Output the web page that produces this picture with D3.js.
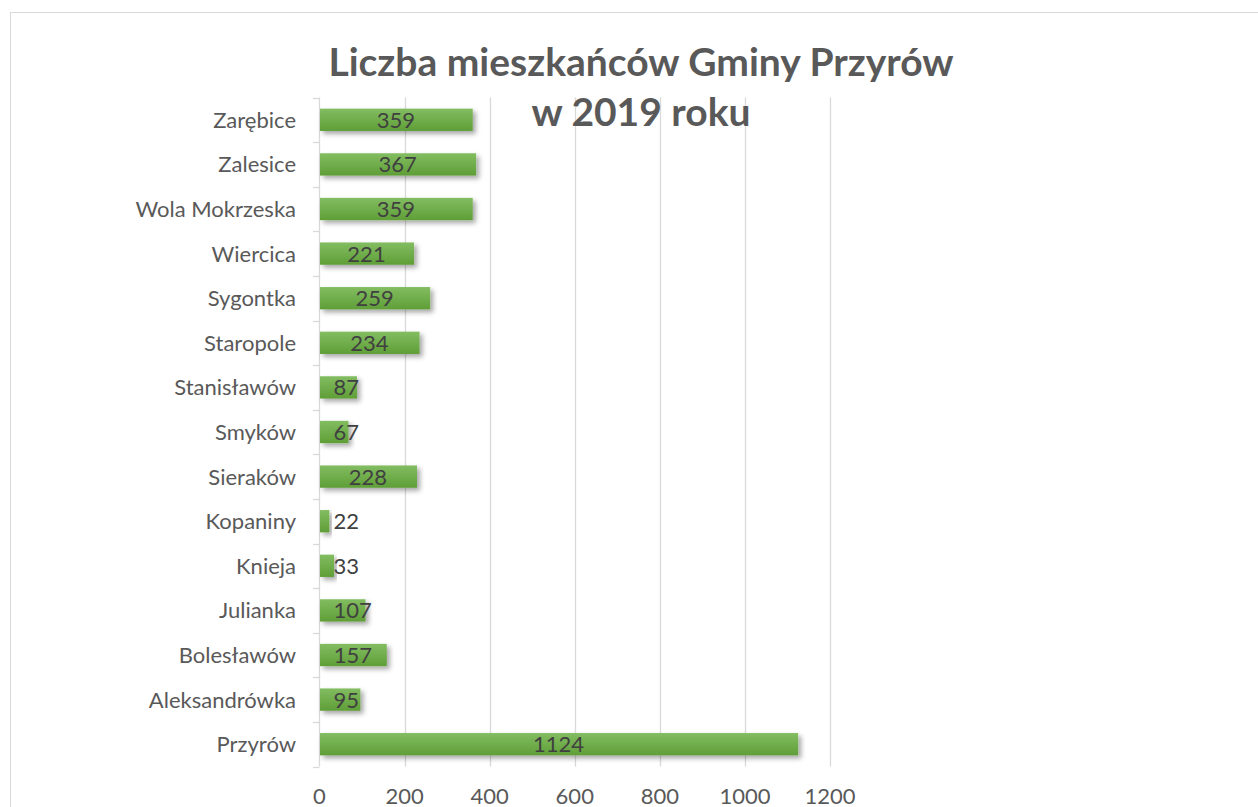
<!DOCTYPE html>
<html><head><meta charset="utf-8">
<script src="https://cdn.jsdelivr.net/npm/d3@7"></script>
<style>body{margin:0;background:#fff;}svg{display:block;}text{font-family:Lato,"Open Sans",sans-serif;}</style>
</head><body>
<svg id="c" width="1258" height="807"></svg>
<script>
const categories = ["Zarębice","Zalesice","Wola Mokrzeska","Wiercica","Sygontka","Staropole","Stanisławów","Smyków","Sieraków","Kopaniny","Knieja","Julianka","Bolesławów","Aleksandrówka","Przyrów"];
const values = [359,367,359,221,259,234,87,67,228,22,33,107,157,95,1124];
const xTicks = [0,200,400,600,800,1000,1200];
const titleLines = ["Liczba mieszkańców Gminy Przyrów","w 2019 roku"];

const svg = d3.select("#c");
const defs = svg.append("defs");
const g1 = defs.append("linearGradient").attr("id","bg").attr("x1",0).attr("y1",0).attr("x2",0).attr("y2",1);
g1.append("stop").attr("offset","0%").attr("stop-color","#82bd61");
g1.append("stop").attr("offset","100%").attr("stop-color","#5f9e37");
const f = defs.append("filter").attr("id","sh").attr("x","-10%").attr("y","-30%").attr("width","130%").attr("height","190%");
f.append("feDropShadow").attr("dx",3).attr("dy",3).attr("stdDeviation",2.5).attr("flood-color","#000").attr("flood-opacity",0.35);

svg.append("rect").attr("x",10.5).attr("y",12.5).attr("width",1300).attr("height",900)
  .attr("fill","none").attr("stroke","#d9d9d9").attr("stroke-width",1);

const x = d3.scaleLinear().domain([0,1200]).range([319.5,830]);
const y = d3.scaleBand().domain(categories).range([97.5,766.5]).paddingInner(0.5).paddingOuter(0.25);

svg.append("g").selectAll("line").data(xTicks.slice(1)).join("line")
  .attr("x1",d=>Math.round(x(d))+0.5).attr("x2",d=>Math.round(x(d))+0.5)
  .attr("y1",97.5).attr("y2",766.5).attr("stroke","#d9d9d9").attr("stroke-width",1.3);

const bounds = d3.range(categories.length+1).map(i=>97.5 + i*(766.5-97.5)/categories.length);
svg.append("line").attr("x1",319.5).attr("x2",319.5).attr("y1",97.5).attr("y2",766.5).attr("stroke","#d9d9d9").attr("stroke-width",1.3);
svg.append("g").selectAll("line").data(bounds).join("line")
  .attr("x1",313).attr("x2",319.5).attr("y1",d=>Math.round(d)+0.5).attr("y2",d=>Math.round(d)+0.5)
  .attr("stroke","#d9d9d9").attr("stroke-width",1.3);

svg.append("g").selectAll("rect").data(values).join("rect")
  .attr("x",x(0)+0.5).attr("y",(d,i)=>y(categories[i]))
  .attr("width",d=>x(d)-x(0)).attr("height",y.bandwidth())
  .attr("fill","url(#bg)").attr("filter","url(#sh)");

svg.append("g").selectAll("text").data(categories).join("text")
  .attr("x",296).attr("y",d=>y(d)+y.bandwidth()/2).attr("dy","0.36em")
  .attr("text-anchor","end").attr("font-size",22).attr("fill","#595959").text(d=>d);

svg.append("g").selectAll("text").data(xTicks).join("text")
  .attr("x",d=>x(d)).attr("y",804).attr("text-anchor","middle")
  .attr("font-size",22).attr("fill","#595959").text(d=>d);

const lbl = svg.append("g").selectAll("text").data(values).join("text")
  .attr("y",(d,i)=>y(categories[i])+y.bandwidth()/2).attr("dy","0.36em")
  .attr("font-size",22).attr("fill","#404040").text(d=>d);
lbl.each(function(d){
  const w = this.getComputedTextLength();
  const c = (x(0)+x(d))/2;
  const left = Math.max(c - w/2, x(0)+14);
  d3.select(this).attr("x",left);
});

svg.append("g").selectAll("text").data(titleLines).join("text")
  .attr("x",641).attr("y",(d,i)=>76+i*50).attr("text-anchor","middle")
  .attr("font-size",39).attr("font-weight","bold").attr("fill","#595959").text(d=>d);
</script>
</body></html>
